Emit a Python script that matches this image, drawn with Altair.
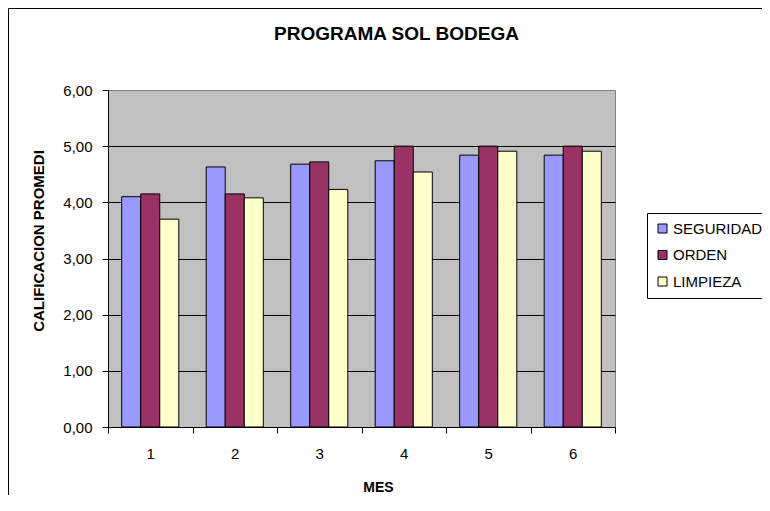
import altair as alt
import pandas as pd

mes = ["1", "2", "3", "4", "5", "6"]
series = ["SEGURIDAD", "ORDEN", "LIMPIEZA"]
seguridad = [4.10, 4.63, 4.68, 4.74, 4.84, 4.84]
orden = [4.15, 4.15, 4.72, 5.00, 5.00, 5.00]
limpieza = [3.70, 4.08, 4.23, 4.54, 4.91, 4.91]
colors = ["#9999FF", "#993366", "#FFFFCC"]
y_ticks = [0, 1, 2, 3, 4, 5, 6]
titulo = "PROGRAMA SOL BODEGA"

rows = []
for name, vals in zip(series, [seguridad, orden, limpieza]):
    for m, v in zip(mes, vals):
        rows.append({"MES": m, "serie": name, "valor": v})
df = pd.DataFrame(rows)

FONT = "Liberation Sans"
W, H = 507, 337
PAD = {"left": 100, "top": 82, "right": 147, "bottom": 68}

bars = alt.Chart(df).mark_bar(stroke="black", strokeWidth=1).encode(
    x=alt.X("MES:N", sort=mes,
            scale=alt.Scale(paddingInner=0, paddingOuter=0),
            axis=alt.Axis(title="MES", labelAngle=0, tickBand="extent", tickSize=6,
                          labelPadding=13, labelFontSize=15,
                          titleFontWeight="bold", titleFontSize=14,
                          titleX=270, titleY=60, titleAnchor="middle",
                          titleBaseline="middle",
                          domainColor="black", tickColor="black",
                          labelColor="black", titleColor="black", grid=False)),
    xOffset=alt.XOffset("serie:N", sort=series,
                        scale=alt.Scale(paddingOuter=0.72, paddingInner=0)),
    y=alt.Y("valor:Q", scale=alt.Scale(domain=[0, 6], nice=False),
            axis=alt.Axis(title="CALIFICACION PROMEDI", values=y_ticks,
                          labelExpr="replace(format(datum.value, '.2f'), '.', ',')",
                          tickSize=6, labelPadding=10, labelFontSize=15,
                          titleFontSize=15, titleFontWeight="bold",
                          titleAngle=270, titleX=-70, titleY=150.5,
                          titleAlign="center", titleBaseline="middle",
                          domainColor="black", tickColor="black",
                          labelColor="black", titleColor="black",
                          gridColor=alt.condition("datum.value == 6", alt.value("#808080"), alt.value("black")),
                          gridOpacity=1, gridWidth=1)),
    color=alt.Color("serie:N", sort=series,
                    scale=alt.Scale(domain=series, range=colors),
                    legend=alt.Legend(title=None, orient="none", legendX=547, legendY=131,
                                      symbolType="square", symbolSize=81,
                                      symbolStrokeColor="black", symbolStrokeWidth=1,
                                      labelFontSize=15, labelColor="black",
                                      labelOffset=3, rowPadding=10.5, padding=0)),
)

frame = alt.Chart(alt.Data(values=[{"k": 1}])).mark_rect(
    fill=None, stroke="black", strokeWidth=1
).encode(
    x=alt.value(-99.5), x2=alt.value(800), y=alt.value(-81.5), y2=alt.value(800)
)

legend_box = alt.Chart(alt.Data(values=[{"k": 1}])).mark_rect(
    fill="white", stroke="black", strokeWidth=1
).encode(
    x=alt.value(539.5), x2=alt.value(700), y=alt.value(123.5), y2=alt.value(208.5)
)

title_mark = alt.Chart(alt.Data(values=[{"t": titulo}])).mark_text(
    font=FONT, fontSize=19, fontWeight="bold", color="black",
    align="center", baseline="alphabetic"
).encode(
    text="t:N", x=alt.value(288.5), y=alt.value(-50)
)

chart = alt.layer(frame, legend_box, bars, title_mark).properties(
    width=W, height=H,
    autosize=alt.AutoSizeParams(type="none"),
    padding=PAD,
    background="white",
).configure(font=FONT).configure_view(stroke="#808080", fill="#C0C0C0").configure_axis(
    labelFont=FONT, titleFont=FONT
).configure_legend(labelFont=FONT)

chart.save("out.html", embed_options={"renderer": "svg", "actions": False})
